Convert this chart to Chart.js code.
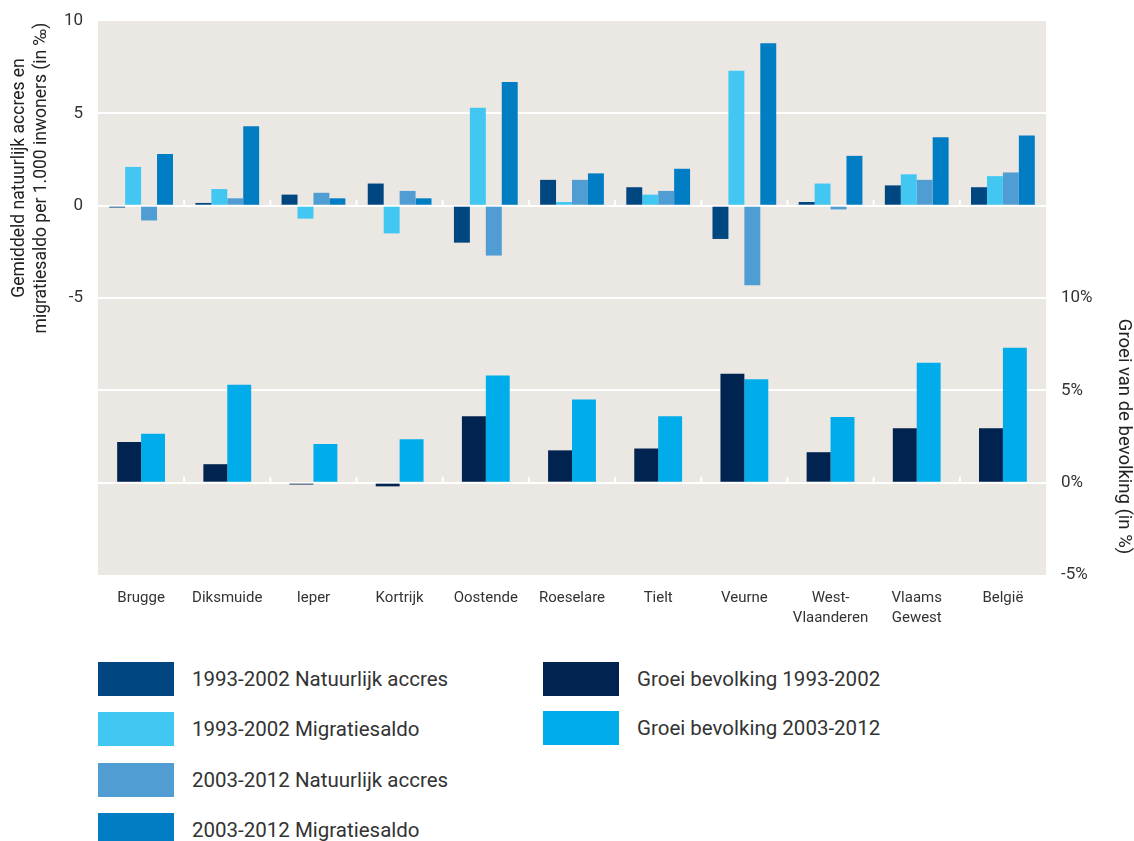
<!DOCTYPE html>
<html lang="nl">
<head>
<meta charset="utf-8">
<title>Natuurlijk accres, migratiesaldo en groei van de bevolking</title>
<script src="https://cdn.jsdelivr.net/npm/chart.js@4"></script>
<style>
    html, body { margin: 0; padding: 0; background: #fff; }
    body { width: 1134px; height: 841px; position: relative; overflow: hidden; font-family: Roboto, "Noto Sans", sans-serif; }
    #top-wrap { position: absolute; left: 0; top: -10px; width: 1134px; height: 373px; }
    #bot-wrap { position: absolute; left: 0; top: 258px; width: 1134px; height: 382px; }
    .legend-item { position: absolute; height: 34px; display: flex; align-items: center; }
    .legend-item .swatch { width: 76px; height: 34px; margin-right: 18px; flex: none; }
    .legend-item span { font-size: 20.5px; color: #333; white-space: nowrap; }
</style>
</head>
<body>
<div id="top-wrap"><canvas id="chart-top" width="1134" height="373"></canvas></div>
<div id="bot-wrap"><canvas id="chart-bot" width="1134" height="382"></canvas></div>
<div id="legend"></div>

<script>
// ---------------------------------------------------------------------------
// Data
// ---------------------------------------------------------------------------

const categories = [
    'Brugge', 'Diksmuide', 'Ieper', 'Kortrijk', 'Oostende', 'Roeselare',
    'Tielt', 'Veurne', ['West-', 'Vlaanderen'], ['Vlaams', 'Gewest'], 'België',
];

// per 1.000 inwoners (‰)
const natAccres9302 = [-0.1, 0.15, 0.6, 1.2, -2.0, 1.4, 1.0, -1.8, 0.2, 1.1, 1.0];
const migSaldo9302  = [2.1, 0.9, -0.7, -1.5, 5.3, 0.2, 0.6, 7.3, 1.2, 1.7, 1.6];
const natAccres0312 = [-0.8, 0.4, 0.7, 0.8, -2.7, 1.4, 0.8, -4.3, -0.2, 1.4, 1.8];
const migSaldo0312  = [2.8, 4.3, 0.4, 0.4, 6.7, 1.75, 2.0, 8.8, 2.7, 3.7, 3.8];

// groei van de bevolking (%)
const groei9302 = [2.2, 1.0, -0.1, -0.2, 3.6, 1.75, 1.85, 5.9, 1.65, 2.95, 2.95];
const groei0312 = [2.65, 5.3, 2.1, 2.35, 5.8, 4.5, 3.6, 5.6, 3.55, 6.5, 7.3];

const topTicks = [-5, 0, 5, 10];
const botTicks = [-5, 0, 5, 10];

// ---------------------------------------------------------------------------
// Styling
// ---------------------------------------------------------------------------

const COLORS = {
    na93: '#004680',
    ms93: '#42c7f3',
    na03: '#509dd4',
    ms03: '#007dc3',
    g93:  '#002350',
    g03:  '#00adea',
};

const FONT = 'Roboto, "Noto Sans", sans-serif';
const TEXT = '#333';

// beige plot background
const areaBg = {
    id: 'areaBg',
    beforeDraw(chart) {
        const { ctx, chartArea: a } = chart;
        ctx.save();
        ctx.fillStyle = '#ebe8e3';
        ctx.fillRect(a.left, a.top, a.right - a.left, a.bottom - a.top);
        ctx.restore();
    },
};

// small white marks on the zero line between categories
const zeroTicks = {
    id: 'zeroTicks',
    beforeDatasetsDraw(chart) {
        const { ctx, scales: { x, y } } = chart;
        const y0 = y.getPixelForValue(0);
        const n = chart.data.labels.length;
        ctx.save();
        ctx.strokeStyle = '#ffffff';
        ctx.lineWidth = 2;
        ctx.beginPath();
        for (let i = 0; i < n - 1; i++) {
            const xb = (x.getPixelForValue(i) + x.getPixelForValue(i + 1)) / 2;
            ctx.moveTo(xb, y0);
            ctx.lineTo(xb, y0 - 6);
        }
        ctx.stroke();
        ctx.restore();
    },
};

function bar(label, data, color, catPct) {
    return {
        label, data,
        backgroundColor: color,
        categoryPercentage: catPct,
        barPercentage: 1,
    };
}

const commonOpts = {
    responsive: false,
    animation: false,
    plugins: {
        legend: { display: false },
        tooltip: { enabled: false },
    },
};

// ---------------------------------------------------------------------------
// Top panel: natuurlijk accres / migratiesaldo (‰), left axis.
// The axis runs a bit below -5 (hidden under the lower panel) so the
// title sits where it does in the original.
// ---------------------------------------------------------------------------

const topChart = new Chart(document.getElementById('chart-top'), {
    type: 'bar',
    data: {
        labels: categories,
        datasets: [
            bar('1993-2002 Natuurlijk accres', natAccres9302, COLORS.na93, 0.74),
            bar('1993-2002 Migratiesaldo',     migSaldo9302,  COLORS.ms93, 0.74),
            bar('2003-2012 Natuurlijk accres', natAccres0312, COLORS.na03, 0.74),
            bar('2003-2012 Migratiesaldo',     migSaldo0312,  COLORS.ms03, 0.74),
        ],
    },
    plugins: [areaBg, zeroTicks],
    options: {
        ...commonOpts,
        layout: { padding: { top: 31, right: 88, bottom: 28, left: 0 } },
        scales: {
            x: { display: false },
            y: {
                position: 'left',
                min: -7, max: 10,
                afterBuildTicks: s => { s.ticks = topTicks.map(v => ({ value: v })); },
                grid: {
                    color: c => (c.tick && c.tick.value < 10 ? '#ffffff' : 'rgba(0,0,0,0)'),
                    lineWidth: 2,
                    drawTicks: false,
                },
                border: { display: false },
                ticks: {
                    color: TEXT,
                    font: { family: FONT, size: 17 },
                    padding: 15,
                },
                title: {
                    display: true,
                    text: ['Gemiddeld natuurlijk accres en', 'migratiesaldo per 1.000 inwoners (in ‰)'],
                    color: '#222',
                    font: { family: FONT, size: 17.5, lineHeight: 1.23 },
                    padding: { top: 9, bottom: 0 },
                },
                afterFit: s => { s.width = 98; },
            },
        },
    },
});

// ---------------------------------------------------------------------------
// Bottom panel: groei van de bevolking (%), right axis + category labels
// ---------------------------------------------------------------------------

const botChart = new Chart(document.getElementById('chart-bot'), {
    type: 'bar',
    data: {
        labels: categories,
        datasets: [
            bar('Groei bevolking 1993-2002', groei9302, COLORS.g93, 0.555),
            bar('Groei bevolking 2003-2012', groei0312, COLORS.g03, 0.555),
        ],
    },
    plugins: [areaBg, zeroTicks],
    options: {
        ...commonOpts,
        layout: { padding: { top: 40, right: 0, bottom: 0, left: 98 } },
        scales: {
            x: {
                grid: { display: false },
                border: { display: false },
                ticks: {
                    color: TEXT,
                    font: { family: FONT, size: 15, lineHeight: 1.35 },
                    padding: 5,
                    maxRotation: 0,
                    autoSkip: false,
                },
                afterFit: s => { s.height = 65; },
            },
            y: {
                position: 'right',
                min: -5, max: 10,
                afterBuildTicks: s => { s.ticks = botTicks.map(v => ({ value: v })); },
                grid: {
                    color: c => (c.tick && c.tick.value > -5 ? '#ffffff' : 'rgba(0,0,0,0)'),
                    lineWidth: 2,
                    drawTicks: false,
                },
                border: { display: false },
                ticks: {
                    color: TEXT,
                    font: { family: FONT, size: 17 },
                    padding: 15,
                    callback: v => v + '%',
                },
                title: {
                    display: true,
                    text: 'Groei van de bevolking (in %)',
                    color: '#222',
                    font: { family: FONT, size: 18.5, lineHeight: 1.08 },
                    padding: 0,
                },
                afterFit: s => { s.width = 88; },
            },
        },
    },
});

// ---------------------------------------------------------------------------
// HTML legend (two columns, built from both charts' datasets)
// ---------------------------------------------------------------------------

function renderLegend() {
    const box = document.getElementById('legend');
    const items = [...topChart.data.datasets, ...botChart.data.datasets];
    const slots = [
        { x: 98,  y: 662 }, { x: 98,  y: 712 }, { x: 98,  y: 763 }, { x: 98,  y: 813 },
        { x: 543, y: 662 }, { x: 543, y: 711 },
    ];
    box.innerHTML = items.map((ds, i) => `
        <div class="legend-item" style="left:${slots[i].x}px;top:${slots[i].y}px">
            <div class="swatch" style="background:${ds.backgroundColor}"></div>
            <span>${ds.label}</span>
        </div>`).join('');
}

renderLegend();
</script>
</body>
</html>
